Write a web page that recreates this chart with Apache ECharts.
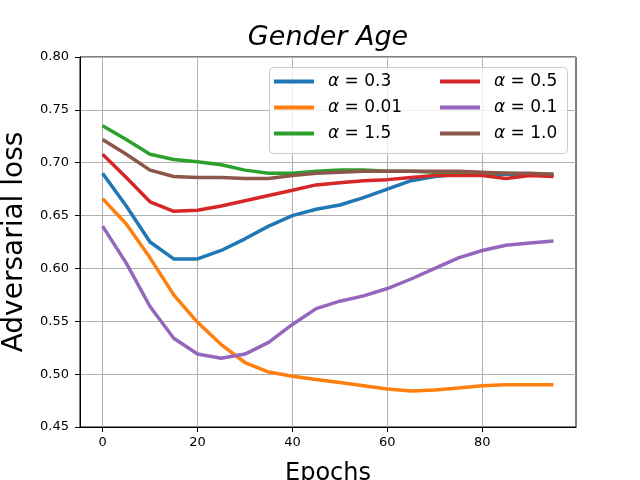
<!DOCTYPE html>
<html><head><meta charset="utf-8">
<script src="https://cdn.jsdelivr.net/npm/echarts@6/dist/echarts.min.js"></script>
<style>html,body{margin:0;padding:0;background:#fff}#c{width:640px;height:480px}</style>
</head><body><div id="c"></div>
<script>
const epochs = [0,5,10,15,20,25,30,35,40,45,50,55,60,65,70,75,80,85,90,95];
const seriesNames = ['0.3','0.01','1.5','0.5','0.1','1.0'];
const a03  = [0.690,0.659,0.625,0.609,0.609,0.617,0.628,0.640,0.650,0.656,0.660,0.667,0.675,0.683,0.687,0.689,0.689,0.689,0.689,0.688];
const a001 = [0.666,0.642,0.610,0.575,0.549,0.528,0.511,0.502,0.498,0.495,0.492,0.489,0.486,0.484,0.485,0.487,0.489,0.490,0.490,0.490];
const a15  = [0.735,0.722,0.708,0.703,0.701,0.698,0.693,0.690,0.690,0.692,0.693,0.693,0.692,0.692,0.691,0.691,0.690,0.690,0.689,0.689];
const a05  = [0.708,0.686,0.663,0.654,0.655,0.659,0.664,0.669,0.674,0.679,0.681,0.683,0.684,0.686,0.688,0.688,0.688,0.685,0.688,0.687];
const a01  = [0.640,0.605,0.564,0.534,0.519,0.515,0.519,0.530,0.547,0.562,0.569,0.574,0.581,0.590,0.600,0.610,0.617,0.622,0.624,0.626];
const a10  = [0.722,0.708,0.693,0.687,0.686,0.686,0.685,0.685,0.688,0.690,0.691,0.692,0.692,0.692,0.692,0.692,0.691,0.690,0.690,0.689];
const xTicks = [0,20,40,60,80];
const colors = ['#1f77b4','#ff7f0e','#2ca02c','#d62728','#9467bd','#8c564b'];
const values = [a03,a001,a15,a05,a01,a10];

const FONT = 'DejaVu Sans';
const chart = echarts.init(document.getElementById('c'), null, {renderer:'canvas'});
const legendText = {
  fontFamily: FONT, fontSize: 17, color:'#000', padding:[0,0,0,9],
  rich: { i: {fontFamily: FONT, fontStyle:'italic', fontSize:17, color:'#000'}, n: {fontFamily: FONT, fontSize:17, color:'#000'} }
};
const fmt = n => '{i|α}{n| = ' + n + '}';
chart.setOption({
  animation:false,
  color: colors,
  title: { text:'Gender Age', left: 328, top: 24, textAlign:'center', padding:0,
    textStyle:{fontFamily:FONT, fontStyle:'italic', fontWeight:'normal', fontSize:27, color:'#000'} },
  grid: { left:80, right:64, top:57, bottom:53, show:true, borderColor:'#000', borderWidth:1, backgroundColor:'transparent', containLabel:false, outerBoundsMode:'none' },
  graphic: [{ type:'rect', left:269, top:67, z:90, shape:{width:298, height:86, r:4},
    style:{fill:'rgba(255,255,255,0.8)', stroke:'#cccccc', lineWidth:1} }],
  legend: [
    { data: seriesNames.slice(0,3), orient:'vertical', left:274, top:73, padding:0, itemGap:9, itemWidth:40, itemHeight:4, icon:'rect', z:100,
      formatter: fmt, textStyle: legendText },
    { data: seriesNames.slice(3), orient:'vertical', left:440, top:73, padding:0, itemGap:9, itemWidth:40, itemHeight:4, icon:'rect', z:100,
      formatter: fmt, textStyle: legendText }
  ],
  xAxis: { type:'value', min:-4.75, max:99.75,
    name:'Epochs', nameLocation:'middle', nameGap:35,
    nameTextStyle:{fontFamily:FONT, fontSize:24, color:'#000'},
    axisLine:{show:true, onZero:false, lineStyle:{color:'#000', width:1}},
    axisTick:{show:true, length:5, customValues: xTicks, lineStyle:{color:'#000'}},
    axisLabel:{customValues: xTicks, fontFamily:FONT, fontSize:13, color:'#000', margin:9},
    splitLine:{show:true, lineStyle:{color:'#b0b0b0', width:1}} },
  yAxis: { type:'value', min:0.45, max:0.80, interval:0.05,
    name:'Adversarial loss', nameLocation:'middle', nameGap:45, nameRotate:90,
    nameTextStyle:{fontFamily:FONT, fontSize:28, color:'#000'},
    axisLine:{show:true, onZero:false, lineStyle:{color:'#000', width:1}},
    axisTick:{show:true, length:5, lineStyle:{color:'#000'}},
    axisLabel:{formatter: v => v.toFixed(2), fontFamily:FONT, fontSize:13, color:'#000', margin:11},
    splitLine:{show:true, lineStyle:{color:'#b0b0b0', width:1}} },
  series: seriesNames.map((n,i) => ({
    name:n, type:'line', showSymbol:false, symbol:'none',
    data: epochs.map((e,j) => [e, values[i][j]]),
    lineStyle:{width:3.5, color:colors[i]}, itemStyle:{color:colors[i]}
  }))
});
</script></body></html>
